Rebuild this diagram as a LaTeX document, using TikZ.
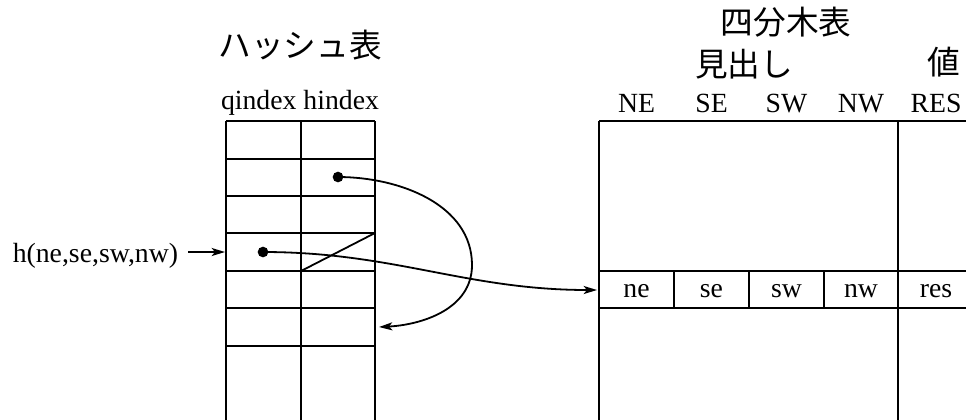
\documentclass[tikz,border=0pt]{standalone}
\usepackage{fontspec}
\setmainfont{Liberation Serif}
\newfontfamily\jpfont{Noto Sans CJK JP}
\usetikzlibrary{arrows.meta}
\begin{document}
\begin{tikzpicture}[x=0.75pt,y=-0.75pt,
  line width=1.35pt,
  lbl/.style={font=\fontsize{20.8}{24}\selectfont, inner sep=0pt, anchor=base},
  jlbl/.style={font=\jpfont\fontsize{24.5}{28}\selectfont, inner sep=0pt},
  ptr/.style={-{Stealth[length=10pt,width=6pt,inset=2.5pt]}, line width=1.35pt},
  dotmark/.style={circle, fill=black, inner sep=0pt, minimum size=8pt}]
\useasboundingbox (0,0) rectangle (966,419);

% ---- hash table ----
\foreach \x in {226,301,375} \draw (\x,121) -- (\x,425);
\foreach \y in {121,159,196,233,271,308,346} \draw (226,\y) -- (375,\y);
\draw (301,271) -- (375,233);

\node[jlbl] (htitle) at (300,45) {ハッシュ表};
\node[lbl] (hcols) at (300,109) {qindex hindex};

% ---- quadtree table ----
\draw (599,121) -- (975,121);
\foreach \x in {599,898} \draw (\x,121) -- (\x,425);
\foreach \y in {271,308} \draw (599,\y) -- (975,\y);
\foreach \x in {674,749,824} \draw (\x,271) -- (\x,308);

\node[jlbl] (qtitle) at (786,22) {四分木表};
\node[jlbl] (qkey) at (744,64) {見出し};
\node[jlbl] (qval) at (944,62) {値};

\node[lbl] (hNE) at (636.5,112) {NE};
\node[lbl] (hSE) at (711.5,112) {SE};
\node[lbl] (hSW) at (786.5,112) {SW};
\node[lbl] (hNW) at (861,112) {NW};
\node[lbl] (hRES) at (936,112) {RES};

\node[lbl] (cne) at (636.5,297) {ne};
\node[lbl] (cse) at (711.5,297) {se};
\node[lbl] (csw) at (786.5,297) {sw};
\node[lbl] (cnw) at (861,297) {nw};
\node[lbl] (cres) at (936,297) {res};

% ---- pointers ----
\node[dotmark] (d1) at (338,177) {};
\node[dotmark] (d2) at (263,252) {};
\coordinate (t1) at (379,327);
\coordinate (t2) at (597,290);
\coordinate (t0) at (225,252);

\node[lbl, anchor=base east] (hfun) at (179,262) {h(ne,se,sw,nw)};
\draw[ptr] (hfun.east |- t0) ++(9,0) coordinate (s0) -- (t0);

\draw[ptr] (d1.center) .. controls (400,177) and (472,205) .. (472,265)
  .. controls (472,310) and (420,325) .. (t1);
\draw[ptr] (d2.center) .. controls (394,252) and (466,290) .. (t2);
\end{tikzpicture}
\end{document}
